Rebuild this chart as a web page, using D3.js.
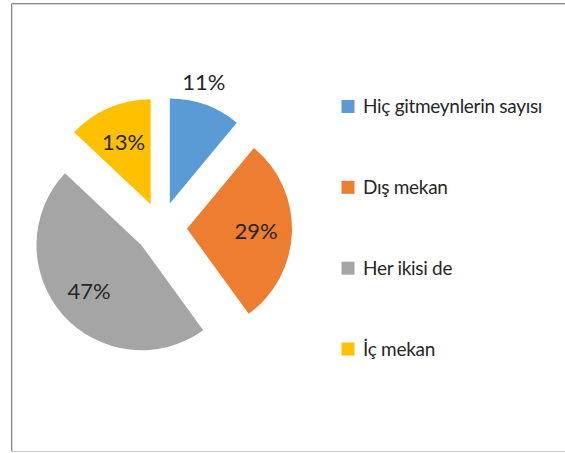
<!DOCTYPE html>
<html>
<head>
<meta charset="utf-8">
<script src="https://cdn.jsdelivr.net/npm/d3@7"></script>
<style>
  body { margin: 0; background: #fff; }
  svg { display: block; }
</style>
</head>
<body>
<div id="chart"></div>
<script>
// chart data
const categories = ["Hiç gitmeynlerin sayısı", "Dış mekan", "Her ikisi de", "İç mekan"];
const values = [11, 29, 47, 13];
const colors = ["#5B9BD5", "#ED7D31", "#A5A5A5", "#FFC000"];

const width = 565, height = 453;
const font = "Lato, 'Open Sans', sans-serif";

const svg = d3.select("#chart").append("svg")
    .attr("width", width)
    .attr("height", height);

// frame
svg.append("path")
    .attr("d", "M11.5,452 V3.5 H566")
    .attr("fill", "none")
    .attr("stroke", "#8a8a8a")
    .attr("stroke-width", 1);
svg.append("path")
    .attr("d", "M12.5,451 V4.5 H566")
    .attr("fill", "none")
    .attr("stroke", "#d4d4d4")
    .attr("stroke-width", 1);
svg.append("line")
    .attr("x1", 11).attr("x2", 566)
    .attr("y1", 451.5).attr("y2", 451.5)
    .attr("stroke", "#c8c8c8");

// pie
const cx = 161, cy = 228, radius = 105, explode = 26;

const pie = d3.pie().sort(null).value(d => d);
const arcs = pie(values);
const arc = d3.arc().innerRadius(0).outerRadius(radius);

const g = svg.append("g").attr("transform", `translate(${cx},${cy})`);

function offset(d, dist, shift) {
    const a = (d.startAngle + d.endAngle) / 2 + (shift || 0);
    return [Math.sin(a) * dist, -Math.cos(a) * dist];
}

g.selectAll("path.slice")
    .data(arcs)
    .enter()
    .append("path")
    .attr("class", "slice")
    .attr("d", arc)
    .attr("fill", (d, i) => colors[i])
    .attr("transform", d => `translate(${offset(d, explode)})`);

// data labels: the small slice gets its label outside, the rest inside
const labelDist = [152, 95, 96, 94];
const labelShift = [-0.06, 0, 0, 0];
g.selectAll("text.lbl")
    .data(arcs)
    .enter()
    .append("text")
    .attr("class", "lbl")
    .attr("transform", (d, i) => {
        const [x, y] = offset(d, labelDist[i], labelShift[i]);
        return `translate(${x},${y})`;
    })
    .attr("text-anchor", "middle")
    .attr("dy", "0.36em")
    .style("font-family", font)
    .style("font-size", "22px")
    .style("fill", "#262626")
    .text(d => d.value + "%");

// legend
const legendY = d3.scalePoint()
    .domain(categories)
    .range([106.5, 349]);

const legend = svg.append("g")
    .selectAll("g")
    .data(categories)
    .enter()
    .append("g")
    .attr("transform", d => `translate(341.5,${legendY(d)})`);

legend.append("rect")
    .attr("x", 0)
    .attr("y", -6.5)
    .attr("width", 13)
    .attr("height", 13)
    .attr("fill", (d, i) => colors[i]);

legend.append("text")
    .attr("x", 21.5)
    .attr("dy", "0.36em")
    .style("font-family", font)
    .style("font-size", "19px")
    .style("letter-spacing", "-0.3px")
    .style("fill", "#262626")
    .text(d => d);
</script>
</body>
</html>
